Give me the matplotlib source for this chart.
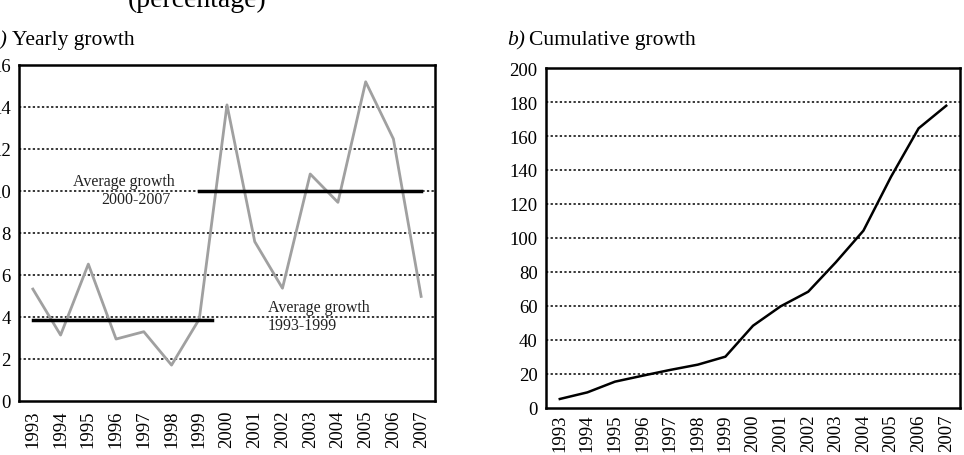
import numpy as np
import matplotlib
matplotlib.use("Agg")
import matplotlib.pyplot as plt

plt.rcParams['font.family'] = ['Liberation Serif', 'DejaVu Serif']

# Daten
years = [str(y) for y in range(1993, 2008)]
yearly_growth = [5.33, 3.14, 6.52, 2.95, 3.30, 1.71, 3.90, 14.1,
                 7.59, 5.37, 10.81, 9.46, 15.2, 12.48, 4.98]
cumulative_growth = [5.3, 9.2, 15.5, 19.0, 22.4, 25.5, 30.2, 48.4,
                     59.8, 68.4, 85.7, 104.3, 136.0, 164.5, 177.8]
avg_1993_1999 = 3.85
avg_2000_2007 = 10.0

W, H = 964, 456
fig = plt.figure(figsize=(W / 100, H / 100), dpi=100)

def px_axes(left, top, right, bottom):
    return fig.add_axes([left / W, 1 - bottom / H, (right - left) / W, (bottom - top) / H])

ax1 = px_axes(19, 66, 435, 402)
ax2 = px_axes(546, 69, 960, 409)

x = np.arange(len(years))
grid_style = dict(color="black", linestyle=(0, (1.5, 1.5)), linewidth=1.1)

# a) jaehrliches Wachstum
ax1.plot(x, yearly_growth, color="#a0a0a0", linewidth=2)
ax1.plot([0, 6.45], [avg_1993_1999] * 2, color="black", linewidth=2.5)
ax1.plot([6, 14], [avg_2000_2007] * 2, color="black", linewidth=2.5)
ax1.set_ylim(0, 16)
ax1.set_yticks(range(0, 17, 2))
for yv in range(2, 16, 2):
    ax1.axhline(yv, zorder=0, **grid_style)
ann = dict(fontsize=11.5, color="#222222", va="center")
ax1.text(3.27, 10.49, "Average growth", ha="center", **ann)
ax1.text(3.71, 9.62, "2000-2007", ha="center", **ann)
ax1.text(8.47, 4.46, "Average growth", ha="left", **ann)
ax1.text(8.47, 3.62, "1993-1999", ha="left", **ann)

# b) kumuliertes Wachstum
ax2.plot(x, cumulative_growth, color="black", linewidth=1.8)
ax2.set_ylim(0, 200)
ax2.set_yticks(range(0, 201, 20))
for yv in range(20, 200, 20):
    ax2.axhline(yv, zorder=0, **grid_style)

for ax in (ax1, ax2):
    ax.set_xlim(-0.5, 14.5)
    ax.set_xticks(x)
    ax.set_xticklabels(years, rotation=90)
    ax.tick_params(length=0, labelsize=13.5, pad=6)
    for s in ax.spines.values():
        s.set_linewidth(1.8)
ax2.tick_params(axis="x", pad=4)

# Titel
fig.text(197 / W, 1 - 7 / H, "(percentage)", ha="center", va="baseline", fontsize=20)
fig.text(-11 / W, 1 - 45 / H, "a)", style="italic", ha="left", va="baseline", fontsize=15.5)
fig.text(12 / W, 1 - 45 / H, "Yearly growth", ha="left", va="baseline", fontsize=15.5)
fig.text(507 / W, 1 - 45 / H, "b)", style="italic", ha="left", va="baseline", fontsize=15.5)
fig.text(529 / W, 1 - 45 / H, "Cumulative growth", ha="left", va="baseline", fontsize=15.5)

fig.savefig("out.png", dpi=100)
